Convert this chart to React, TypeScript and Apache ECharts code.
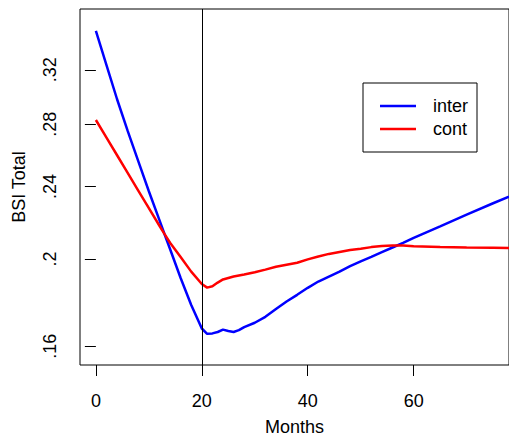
import React, { useEffect, useRef } from "react";
import * as echarts from "echarts";

const months = [0, 2, 4, 6, 8, 10, 12, 13, 14, 16, 18, 20, 21, 22, 23, 24, 25, 26, 27, 28, 30, 32, 34, 36, 38, 40, 42, 44, 46, 48, 50, 52, 54, 56, 58, 60, 65, 70, 75, 78];
const inter = [0.3518, 0.3237, 0.2977, 0.2754, 0.2555, 0.2371, 0.2206, 0.2126, 0.2051, 0.1906, 0.1779, 0.1675, 0.1652, 0.1654, 0.166, 0.167, 0.1664, 0.166, 0.1668, 0.1681, 0.17, 0.1726, 0.1761, 0.1795, 0.1826, 0.1859, 0.1889, 0.1913, 0.1937, 0.1964, 0.1988, 0.2011, 0.2035, 0.2059, 0.2083, 0.211, 0.2172, 0.2236, 0.2301, 0.2339];
const cont = [0.2829, 0.2709, 0.2593, 0.2482, 0.2375, 0.2273, 0.2175, 0.2128, 0.2084, 0.201, 0.1937, 0.1877, 0.186, 0.1866, 0.1884, 0.1899, 0.1906, 0.1913, 0.1918, 0.1923, 0.1934, 0.1947, 0.1961, 0.1971, 0.1981, 0.1998, 0.2013, 0.2026, 0.2036, 0.2046, 0.2053, 0.2061, 0.2067, 0.207, 0.2069, 0.2066, 0.2061, 0.2059, 0.2058, 0.2057];

const xTicks = [0, 20, 40, 60];
const yTickValues = [0.16, 0.2, 0.24, 0.28, 0.32];
const yTickLabels = [".16", ".2", ".24", ".28", ".32"];
const seriesNames = ["inter", "cont"];
const markMonth = 20;

const X_MIN = -3;
const X_MAX = 78;
const Y_BOTTOM = 0.1524;
const Y_TOP = 0.371;

// axis transform (near-logarithmic scale of the original)
const T = (v: number) => Math.log(v + 0.02);

const FONT = "'Liberation Sans', Arial, Helvetica, sans-serif";

export default function App() {
  const ref = useRef<HTMLDivElement>(null);
  useEffect(() => {
    if (!ref.current) return;
    const chart = echarts.init(ref.current, undefined, { renderer: "svg" });
    const yTickT = yTickValues.map(T);
    const fmtY = (val: number) => {
      for (let i = 0; i < yTickT.length; i++) {
        if (Math.abs(yTickT[i] - val) < 1e-6) return yTickLabels[i];
      }
      return "";
    };
    chart.setOption({
      animation: false,
      backgroundColor: "#fff",
      textStyle: { fontFamily: FONT },
      grid: {
        left: 80,
        top: 9,
        right: -4,
        bottom: 69,
        show: true,
        borderColor: "#000",
        borderWidth: 1,
        containLabel: false,
      },
      legend: {
        data: seriesNames,
        orient: "vertical",
        left: 363,
        top: 83,
        icon: "rect",
        itemWidth: 36,
        itemHeight: 2.5,
        itemGap: 5,
        padding: [14, 9, 14, 17],
        borderColor: "#000",
        borderWidth: 1,
        backgroundColor: "#fff",
        textStyle: { fontSize: 18, color: "#000", fontFamily: FONT, padding: [0, 0, 0, 12] },
      },
      xAxis: {
        type: "value",
        min: X_MIN,
        max: X_MAX,
        name: "Months",
        nameLocation: "middle",
        nameGap: 53,
        nameTextStyle: { fontSize: 18, color: "#000", fontFamily: FONT },
        axisLine: { show: false },
        splitLine: { show: false },
        axisTick: { show: true, length: 11, customValues: xTicks, lineStyle: { color: "#000", width: 1 } },
        axisLabel: { show: true, customValues: xTicks, fontSize: 18, color: "#000", margin: 27, fontFamily: FONT },
      },
      yAxis: {
        type: "value",
        min: T(Y_BOTTOM),
        max: T(Y_TOP),
        name: "BSI Total",
        nameLocation: "middle",
        nameGap: 52,
        nameTextStyle: { fontSize: 18, color: "#000", fontFamily: FONT },
        axisLine: { show: false },
        splitLine: { show: false },
        axisTick: { show: true, length: 11, customValues: yTickT, lineStyle: { color: "#000", width: 1 } },
        axisLabel: { show: true, customValues: yTickT, rotate: 90, fontSize: 18, color: "#000", margin: 21, fontFamily: FONT, formatter: fmtY },
      },
      series: [
        {
          name: seriesNames[0],
          type: "line",
          data: months.map((m, i) => [m, T(inter[i])]),
          showSymbol: false,
          color: "#0000ff",
          lineStyle: { width: 2.5, color: "#0000ff" },
          markLine: {
            silent: true,
            symbol: ["none", "none"],
            label: { show: false },
            lineStyle: { color: "#000", width: 1, type: "solid" },
            data: [{ xAxis: markMonth }],
          },
        },
        {
          name: seriesNames[1],
          type: "line",
          data: months.map((m, i) => [m, T(cont[i])]),
          showSymbol: false,
          color: "#ff0000",
          lineStyle: { width: 2.5, color: "#ff0000" },
        },
      ],
    });
    return () => chart.dispose();
  }, []);
  return <div ref={ref} style={{ position: "absolute", left: 0, top: 0, width: 509, height: 441 }} />;
}
